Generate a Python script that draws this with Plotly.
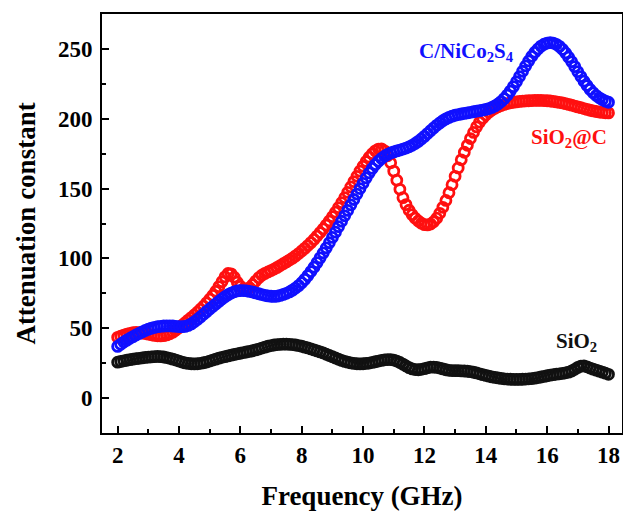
import numpy as np
import plotly.graph_objects as go

freq = [round(2.0 + 0.1 * i, 1) for i in range(161)]

sio2_c = [
    43.5, 44.3, 45.0, 45.8, 46.4, 46.8, 47.0, 46.9, 46.6, 46.2,
    45.8, 45.3, 44.9, 44.6, 44.5, 44.7, 45.2, 46.0, 47.2, 48.7,
    50.4, 52.2, 54.0, 55.8, 57.6, 59.5, 61.5, 63.6, 65.8, 68.2,
    70.8, 73.5, 76.5, 79.8, 83.3, 86.8, 89.2, 89.0, 86.5, 83.0,
    80.0, 78.3, 78.0, 79.0, 81.2, 83.8, 86.2, 88.0, 89.3, 90.3,
    91.3, 92.4, 93.6, 94.9, 96.2, 97.5, 98.8, 100.2, 101.8, 103.5,
    105.3, 107.2, 109.2, 111.3, 113.6, 116.0, 118.5, 121.1, 123.9, 126.8,
    129.9, 133.1, 136.4, 139.9, 143.5, 147.3, 151.2, 155.0, 158.8, 162.5,
    166.0, 169.4, 172.5, 175.0, 177.0, 178.3, 178.5, 177.0, 173.5, 168.5,
    162.5, 156.0, 149.5, 143.5, 138.5, 134.5, 131.3, 128.8, 126.8, 125.2,
    124.2, 124.0, 124.6, 126.2, 128.8, 132.3, 136.6, 141.5, 147.0, 152.8,
    158.8, 164.8, 170.6, 176.0, 181.0, 185.8, 190.2, 194.2, 197.6, 200.4,
    202.7, 204.6, 206.2, 207.5, 208.6, 209.5, 210.3, 210.9, 211.4, 211.8,
    212.1, 212.4, 212.6, 212.8, 212.9, 213.0, 213.1, 213.1, 213.1, 213.0,
    212.9, 212.7, 212.4, 212.1, 211.7, 211.3, 210.8, 210.3, 209.7, 209.1,
    208.5, 207.9, 207.3, 206.7, 206.1, 205.6, 205.2, 204.8, 204.5, 204.3,
    204.2,
]

c_nico2s4 = [
    37.0, 38.6, 40.1, 41.5, 42.8, 44.0, 45.2, 46.3, 47.4, 48.4,
    49.3, 50.0, 50.6, 51.1, 51.4, 51.6, 51.7, 51.7, 51.6, 51.4,
    51.2, 51.1, 51.3, 52.0, 53.1, 54.6, 56.3, 58.1, 60.0, 61.9,
    63.8, 65.6, 67.4, 69.2, 71.0, 72.6, 74.0, 75.2, 76.1, 76.7,
    77.0, 77.0, 76.8, 76.4, 75.9, 75.3, 74.7, 74.1, 73.6, 73.2,
    72.9, 72.8, 73.0, 73.5, 74.2, 75.0, 76.0, 77.3, 78.8, 80.5,
    82.6, 85.0, 87.7, 90.6, 93.7, 97.0, 100.4, 103.9, 107.5, 111.2,
    115.0, 118.8, 122.7, 126.6, 130.5, 134.4, 138.3, 142.2, 146.1, 150.0,
    153.8, 157.6, 161.2, 164.4, 167.2, 169.6, 171.6, 173.2, 174.5, 175.5,
    176.3, 177.0, 177.6, 178.3, 179.0, 179.9, 181.0, 182.3, 183.8, 185.5,
    187.4, 189.4, 191.4, 193.4, 195.3, 197.0, 198.6, 199.9, 201.0, 201.9,
    202.5, 203.0, 203.4, 203.8, 204.2, 204.6, 205.0, 205.4, 205.8, 206.2,
    206.7, 207.3, 208.1, 209.2, 210.6, 212.3, 214.4, 216.9, 219.8, 223.0,
    226.5, 230.2, 234.0, 237.8, 241.4, 244.7, 247.6, 250.0, 252.0, 253.4,
    254.2, 254.5, 254.2, 253.3, 251.8, 249.7, 247.1, 244.1, 240.8, 237.3,
    233.7, 230.2, 226.9, 223.8, 221.0, 218.6, 216.6, 215.0, 213.7, 212.6,
    211.8,
]

sio2 = [
    25.7, 26.2, 26.7, 27.1, 27.5, 27.9, 28.2, 28.5, 28.8, 29.1,
    29.3, 29.5, 29.7, 29.8, 29.7, 29.4, 29.0, 28.5, 27.9, 27.2,
    26.5, 25.8, 25.2, 24.8, 24.6, 24.5, 24.6, 24.9, 25.3, 25.8,
    26.5, 27.2, 27.9, 28.6, 29.2, 29.7, 30.2, 30.7, 31.2, 31.7,
    32.1, 32.6, 33.0, 33.4, 33.9, 34.5, 35.1, 35.8, 36.5, 37.1,
    37.6, 38.0, 38.3, 38.5, 38.6, 38.6, 38.5, 38.3, 38.0, 37.6,
    37.1, 36.5, 35.9, 35.2, 34.5, 33.8, 33.1, 32.3, 31.4, 30.5,
    29.6, 28.7, 27.8, 27.0, 26.3, 25.7, 25.2, 24.8, 24.6, 24.5,
    24.6, 24.8, 25.1, 25.5, 26.0, 26.5, 27.0, 27.4, 27.6, 27.6,
    27.2, 26.5, 25.5, 24.3, 23.0, 21.8, 20.9, 20.4, 20.3, 20.6,
    21.1, 21.7, 22.1, 22.2, 22.0, 21.5, 20.9, 20.3, 19.9, 19.7,
    19.6, 19.6, 19.5, 19.4, 19.2, 18.9, 18.5, 18.0, 17.4, 16.8,
    16.2, 15.7, 15.2, 14.8, 14.4, 14.1, 13.8, 13.6, 13.5, 13.4,
    13.4, 13.4, 13.5, 13.6, 13.8, 14.0, 14.3, 14.7, 15.1, 15.5,
    16.0, 16.4, 16.8, 17.1, 17.4, 17.7, 18.1, 18.6, 19.4, 20.6,
    22.0, 22.9, 23.0, 22.4, 21.5, 20.7, 20.0, 19.3, 18.6, 17.8,
    17.0,
]

x_ticks = [2, 4, 6, 8, 10, 12, 14, 16, 18]
x_tick_labels = ["2", "4", "6", "8", "10", "12", "14", "16", "18"]
y_ticks = [0, 50, 100, 150, 200, 250]
y_tick_labels = ["0", "50", "100", "150", "200", "250"]

series = [
    ("SiO<sub>2</sub>", sio2, "#111111"),
    ("SiO<sub>2</sub>@C", sio2_c, "#ff1010"),
    ("C/NiCo<sub>2</sub>S<sub>4</sub>", c_nico2s4, "#1010ff"),
]

fig = go.Figure()
for name, vals, col in series:
    fig.add_trace(go.Scatter(
        x=freq, y=vals, mode="markers", name=name,
        marker=dict(symbol="circle-open", size=10, color=col,
                    line=dict(width=2.8, color=col)),
        showlegend=False,
    ))

font_family = "Liberation Serif"

labels = [
    ("<b>C/NiCo<sub>2</sub>S<sub>4</sub></b>", 13.36, 247.7, "#1010ff"),
    ("<b>SiO<sub>2</sub>@C</b>", 16.72, 186.2, "#ff1010"),
    ("<b>SiO<sub>2</sub></b>", 16.95, 40.3, "#111111"),
]
for txt, lx, ly, col in labels:
    fig.add_annotation(x=lx, y=ly, xref="x", yref="y", text=txt,
                       showarrow=False,
                       font=dict(family=font_family, size=21, color=col))

axis_common = dict(
    showline=True, linewidth=2, linecolor="black", mirror=True,
    ticks="inside", ticklen=7, tickwidth=2, tickcolor="black",
    showgrid=False, zeroline=False, automargin=False,
    tickfont=dict(family=font_family, size=23, color="black", weight=700),
)

fig.update_xaxes(
    range=[1.49, 18.44], tickmode="array", tickvals=x_ticks,
    ticktext=["<b>%s</b>" % t for t in x_tick_labels],
    minor=dict(ticks="inside", ticklen=4, tickwidth=2, dtick=1, tick0=1,
               tickcolor="black"),
    title=dict(text="<b>Frequency (GHz)</b>", standoff=20,
               font=dict(family=font_family, size=27, color="black")),
    **axis_common,
)
fig.update_yaxes(
    range=[-25, 275], tickmode="array", tickvals=y_ticks,
    ticktext=["<b>%s</b>" % t for t in y_tick_labels],
    minor=dict(ticks="inside", ticklen=4, tickwidth=2, dtick=25, tick0=0,
               tickcolor="black"),
    ticklabelstandoff=3,
    title=dict(text="<b>Attenuation constant</b>", standoff=14,
               font=dict(family=font_family, size=27, color="black")),
    **axis_common,
)

fig.update_layout(
    width=623, height=512,
    margin=dict(l=102, r=1, t=14, b=79),
    plot_bgcolor="white", paper_bgcolor="white",
)

fig.write_html(
    "out.html",
    config={"displayModeBar": False, "staticPlot": True},
    post_script="document.body.style.margin='0';document.body.style.overflow='hidden';",
)
